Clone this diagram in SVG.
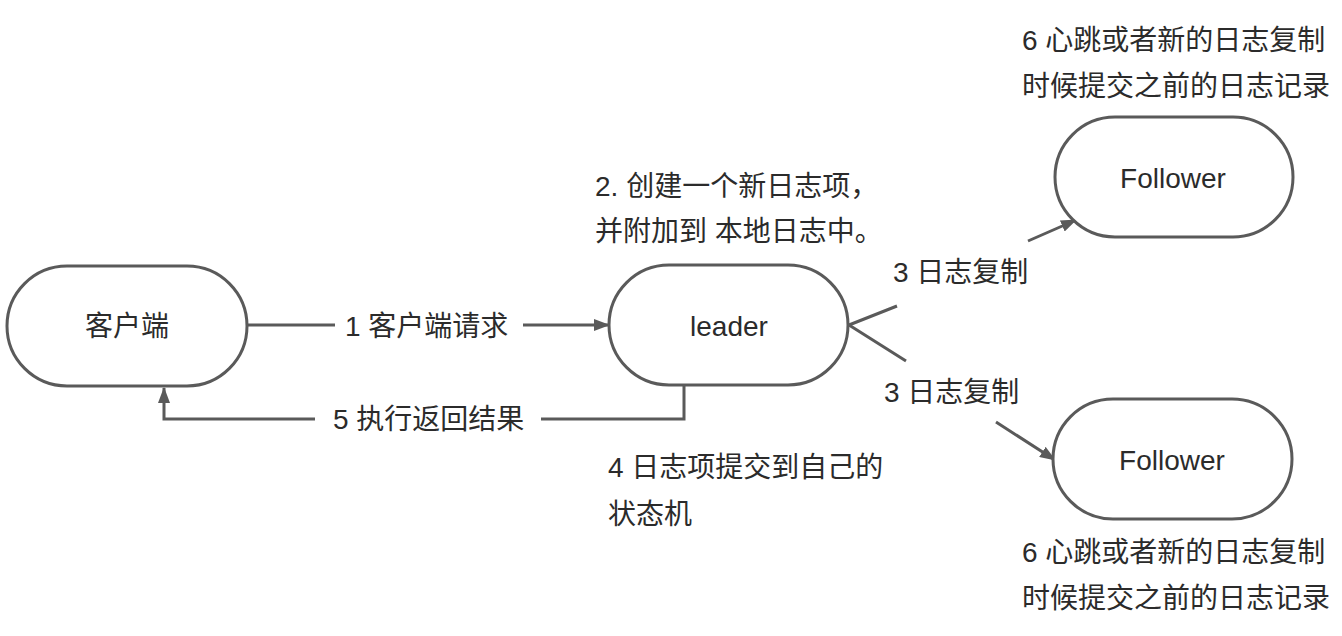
<svg xmlns="http://www.w3.org/2000/svg" width="1342" height="636" viewBox="0 0 1342 636">
  <style>
    .node { fill: #ffffff; stroke: #5a5a5a; stroke-width: 3; }
    .edge { fill: none; stroke: #5a5a5a; stroke-width: 3; }
    text { font-family: "Liberation Sans", "Noto Sans CJK SC", sans-serif; font-size: 28px; fill: #2b2b2b; dominant-baseline: central; }
    .c { text-anchor: middle; }
  </style>
  <defs>
    <marker id="arrow" viewBox="0 0 16 12" markerWidth="16" markerHeight="12" refX="15" refY="6" markerUnits="userSpaceOnUse" orient="auto">
      <path d="M0,0 L16,6 L0,12 z" fill="#5a5a5a"/>
    </marker>
  </defs>
  <rect width="1342" height="636" fill="#ffffff"/>

  <g id="connectors">
    <path class="edge" d="M247,325 L335,325 M523,325 L609,325" marker-end="url(#arrow)"/>
    <text x="345" y="326">1 客户端请求</text>
    <path class="edge" d="M684,385 L684,419 L541,419 M315,419 L164,419 L164,388" marker-end="url(#arrow)"/>
    <text x="333" y="419">5 执行返回结果</text>
    <path class="edge" d="M849,325 L897,306 M1028,241 L1076,220" marker-end="url(#arrow)"/>
    <text x="893" y="272">3 日志复制</text>
    <path class="edge" d="M849,325 L906,361 M996,422 L1055,460" marker-end="url(#arrow)"/>
    <text x="884" y="392">3 日志复制</text>
  </g>

  <g id="client">
    <rect class="node" x="7" y="266" width="240" height="120" rx="60" ry="60"/>
    <text class="c" x="127" y="326">客户端</text>
  </g>
  <g id="leader">
    <rect class="node" x="609" y="265" width="239" height="120" rx="60" ry="60"/>
    <text class="c" x="729" y="326">leader</text>
  </g>
  <g id="follower-top">
    <rect class="node" x="1055" y="117" width="238" height="120" rx="60" ry="60"/>
    <text class="c" x="1173" y="178">Follower</text>
  </g>
  <g id="follower-bottom">
    <rect class="node" x="1053" y="399" width="239" height="120" rx="60" ry="60"/>
    <text class="c" x="1172" y="460">Follower</text>
  </g>

  <g id="notes">
    <text x="595" y="186">2. 创建一个新日志项，</text>
    <text x="595" y="231">并附加到 本地日志中。</text>
    <text x="608" y="467">4 日志项提交到自己的</text>
    <text x="608" y="514">状态机</text>
    <text x="1022" y="40">6 心跳或者新的日志复制</text>
    <text x="1022" y="86">时候提交之前的日志记录</text>
    <text x="1022" y="552">6 心跳或者新的日志复制</text>
    <text x="1022" y="598">时候提交之前的日志记录</text>
  </g>
</svg>
